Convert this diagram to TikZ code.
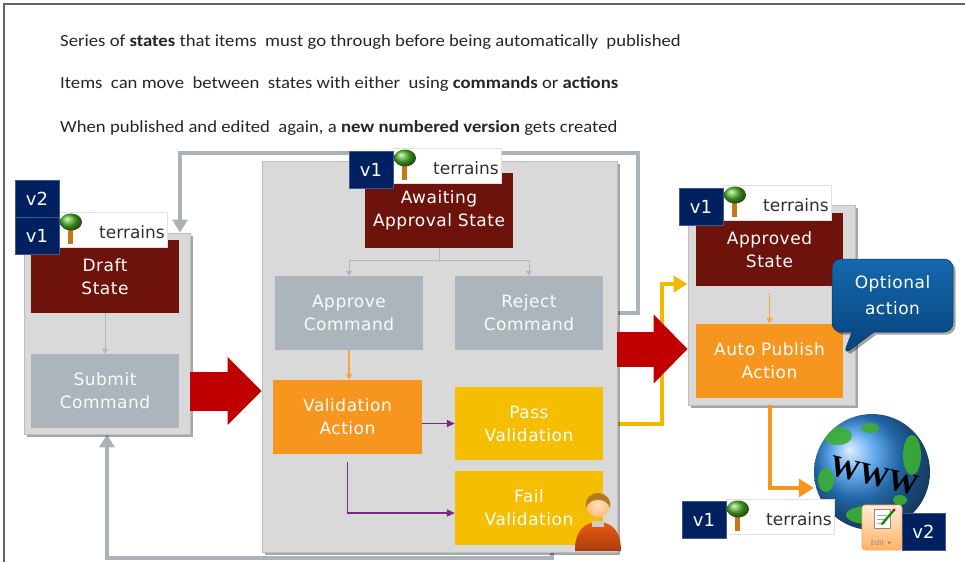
\documentclass[tikz,border=0pt]{standalone}
\usepackage{fontspec}
\setmainfont{DejaVu Sans}
\newfontfamily\hdrfont{Carlito}
\newfontfamily\boxfont[LetterSpace=3]{DejaVu Sans}
\newfontfamily\wwwfont{Liberation Serif}
\usetikzlibrary{arrows.meta,shadows,shapes.callouts,backgrounds}

\definecolor{statered}{RGB}{110,18,12}
\definecolor{cmdgray}{RGB}{173,181,188}
\definecolor{actorange}{RGB}{247,150,30}
\definecolor{valyellow}{RGB}{246,190,0}
\definecolor{panelfill}{RGB}{217,217,217}
\definecolor{paneledge}{RGB}{190,190,190}
\definecolor{navy}{RGB}{0,32,96}
\definecolor{bigred}{RGB}{192,0,0}
\definecolor{flowpurple}{RGB}{118,42,136}
\definecolor{loopgray}{RGB}{170,178,186}
\definecolor{thingray}{RGB}{176,184,190}
\definecolor{flowyellow}{RGB}{245,184,0}
\definecolor{framegray}{RGB}{100,100,100}
\definecolor{leaf}{RGB}{80,180,40}
\definecolor{trunk}{RGB}{196,122,24}
\definecolor{tagtext}{RGB}{48,48,48}
\definecolor{calloutTop}{RGB}{22,104,172}
\definecolor{calloutBot}{RGB}{6,66,124}
\definecolor{globeblue}{RGB}{50,145,235}
\definecolor{landgreen}{RGB}{60,175,50}
\definecolor{skin}{RGB}{255,205,150}
\definecolor{hair}{RGB}{180,120,30}
\definecolor{shirt}{RGB}{225,80,20}

\tikzset{
  panel/.style={draw=paneledge, fill=panelfill, line width=0.8pt, inner sep=0,
    drop shadow={shadow xshift=2.5pt, shadow yshift=-2.5pt, opacity=0.35, fill=black}},
  blk/.style={minimum width=148pt, minimum height=74pt, inner sep=0, align=center,
    font=\boxfont\fontsize{17}{23}\selectfont, text=white},
  statebox/.style={blk, fill=statered},
  cmdbox/.style={blk, fill=cmdgray, text=white!94!cmdgray},
  actbox/.style={blk, fill=actorange},
  valbox/.style={blk, fill=valyellow},
  vtag/.style={fill=navy, draw=navy!75!white, line width=0.4pt, text=white,
    minimum width=44pt, minimum height=37pt, inner sep=0,
    font=\fontsize{18}{18}\selectfont},
  terrbox/.style={fill=white, draw=black!12, line width=0.4pt,
    minimum width=108pt, minimum height=35pt, inner sep=0},
  terrtext/.style={text=tagtext, inner sep=0, font=\fontsize{17}{17}\selectfont},
  terrtag/.pic={
    \node[terrbox, anchor=north west] (-box) at (0,0) {};
    \fill[trunk] (9,15) rectangle (14,32);
    \shade[ball color=leaf] (12,10) ellipse [x radius=11pt, y radius=8.5pt];
    \node[terrtext, anchor=base east] (-txt) at (106,26) {terrains};
  },
  bigarrow/.style={draw=bigred, line width=#1},
  thinlink/.style={draw=thingray, line width=1pt, -{Triangle[length=5pt,width=6pt]}},
  orangelink/.style={draw=actorange!85!white, line width=1.4pt, -{Triangle[length=6pt,width=6pt]}},
  purplelink/.style={draw=flowpurple, line width=1.6pt, -{Triangle[length=8pt,width=7pt]}},
  looplink/.style={draw=loopgray, line width=4pt, line join=miter, -{Triangle[length=13pt,width=15pt]}},
  yellowlink/.style={draw=flowyellow, line width=4pt, line join=miter, -{Triangle[length=14pt,width=16pt]}},
  weblink/.style={draw=actorange, line width=4pt, line join=miter, -{Triangle[length=15pt,width=18pt]}},
  hdr/.style={anchor=base west, inner sep=0, text=black!85, font=\hdrfont\fontsize{17}{17}\selectfont},
}

\begin{document}
\begin{tikzpicture}[x=1pt, y=-1pt]
  \useasboundingbox (0,0) rectangle (965,562);
  \begin{scope}[on background layer]
    \fill[white] (0,0) rectangle (965,562);
  \end{scope}
  \draw[framegray, line width=1.6pt] (4,562) -- (4,4) -- (965,4);

  % header lines
  \node[hdr] (line1) at (60,46) {\scalebox{1.1}[1]{Series of \textbf{states} that items\ \ must go through before being automatically\ \ published}};
  \node[hdr] (line2) at (60,88) {\scalebox{1.1}[1]{Items\ \ can move\ \ between\ \ states with either\ \ using \textbf{commands} or \textbf{actions}}};
  \node[hdr] (line3) at (60,132) {\scalebox{1.1}[1]{When published and edited\ \ again, a \textbf{new numbered version} gets created}};

  % containers
  \node[panel, minimum width=166pt, minimum height=201pt] (draftC) at (107,333.5) {};
  \node[panel, minimum width=355pt, minimum height=391pt] (awaitC) at (439.5,356.5) {};
  \node[panel, minimum width=167pt, minimum height=200pt] (apprC) at (771.5,305) {};

  % draft stage
  \node[statebox, minimum height=73pt] (draft) at (105,276.5) {Draft\\State};
  \node[cmdbox] (submit) at (105,391) {Submit\\Command};

  % awaiting approval stage
  \node[statebox, minimum height=75pt] (await) at (439,210.5) {Awaiting\\Approval State};
  \node[cmdbox] (approve) at (349,313) {Approve\\Command};
  \node[cmdbox] (reject) at (529,313) {Reject\\Command};
  \node[actbox, minimum width=149pt] (valid) at (347.5,417) {Validation\\Action};
  \node[valbox, minimum height=73pt] (pass) at (529,423.5) {Pass\\Validation};
  \node[valbox] (fail) at (529,508) {Fail\\Validation};

  % approved stage
  \node[statebox, minimum width=147pt, minimum height=73pt] (approved) at (769.5,249.5) {Approved\\State};
  \node[actbox, minimum width=147pt] (autopub) at (769.5,361) {Auto Publish\\Action};

  % links inside the stages
  \draw[thinlink] (draft.south) -- (submit.north);
  \draw[thingray, line width=1pt] (await.south) -- ++(0,12) coordinate (split);
  \draw[thinlink] (split) -| (approve.north);
  \draw[thinlink] (split) -| (reject.north);
  \draw[orangelink] (approve.south) -- (approve.south |- valid.north);
  \draw[purplelink] (pass.west -| valid.east) -- (pass.west);
  \draw[purplelink] ([yshift=-8pt]valid.south) |- ([yshift=-5pt]fail.west);
  \draw[orangelink] ([yshift=-7pt]approved.south) -- (autopub.north);

  % block arrows between the stages
  \coordinate (r2) at ([yshift=12pt]autopub.west);
  \draw[bigarrow=39pt, -{Triangle[length=34pt,width=66pt]}] (submit -| draftC.east) -- (submit -| awaitC.west);
  \draw[bigarrow=35pt, -{Triangle[length=34pt,width=67pt]}] (r2 -| awaitC.east) -- (r2 -| apprC.west);

  % return and forward paths behind the stages
  \coordinate (loopR) at (638,153);
  \coordinate (loopL) at (180,153);
  \coordinate (loopB) at (552,558);
  \coordinate (yjog) at (662,284);
  \begin{scope}[on background layer]
    \draw[looplink] (reject.east) -| (loopR) -- (loopL) -- (loopL |- draftC.north);
    \draw[looplink] (loopB |- awaitC.south) -- (loopB) -| (draftC.south);
    \draw[yellowlink] (pass.east) -| (yjog) -- (yjog -| apprC.west);
    \draw[weblink, -] (autopub.south) -- (autopub.south |- apprC.south);
  \end{scope}

  % person marker on the failed validation
  \shade[top color=shirt!75!orange, bottom color=shirt!75!black]
    (575,551) .. controls (575,530) and (585,522) .. (598,522)
    .. controls (611,522) and (621,530) .. (621,551) -- cycle;
  \fill[black!20] (592,521) rectangle (604,527);
  \shade[inner color=skin!60!white, outer color=skin!80!orange] (598,505) circle (12pt);
  \fill[hair] (586,508) .. controls (583,488) and (613,488) .. (610,508)
    .. controls (607,497) and (589,497) .. cycle;

  % web globe
  \node[circle, minimum size=116pt, inner sep=0, ball color=globeblue] (globe) at (872,472) {};
  \begin{scope}
    \clip (globe.center) circle (58pt);
    \fill[landgreen, opacity=0.9] (838,436) ellipse [x radius=14pt, y radius=9pt];
    \fill[landgreen, opacity=0.9] (870,428) ellipse [x radius=9pt, y radius=5pt];
    \fill[landgreen, opacity=0.9] (912,455) ellipse [x radius=9pt, y radius=20pt];
    \fill[landgreen, opacity=0.9] (826,480) ellipse [x radius=8pt, y radius=12pt];
    \fill[landgreen, opacity=0.9] (868,515) ellipse [x radius=22pt, y radius=9pt];
    \fill[landgreen, opacity=0.9] (900,500) ellipse [x radius=7pt, y radius=5pt];
  \end{scope}
  \node[rotate=-14, inner sep=0, font=\wwwfont\bfseries\fontsize{30}{30}\selectfont] (www) at (874,476) {WWW};
  \draw[weblink] (autopub.south |- apprC.south) |- ([yshift=-16pt]globe.west);

  % callout
  \node[rectangle callout, callout absolute pointer={([yshift=6pt]autopub.east)},
    callout pointer width=22pt, rounded corners=9pt,
    top color=calloutTop, bottom color=calloutBot, draw=calloutBot!80!black, line width=0.5pt,
    minimum width=121pt, minimum height=73pt, inner sep=0, align=center, text=white,
    font=\boxfont\fontsize{17}{26}\selectfont,
    drop shadow={shadow xshift=2.5pt, shadow yshift=-2.5pt, opacity=0.35, fill=black}]
    (optional) at (892.5,295.5) {Optional\\action};

  % version tags
  \pic (tagDraft) at (59,212) {terrtag};
  \node[vtag] (v2draft) at (37,198.5) {v2};
  \node[vtag] (v1draft) at (37,235.5) {v1};
  \pic (tagAwait) at (393,148) {terrtag};
  \node[vtag] (v1await) at (371,170) {v1};
  \pic (tagAppr) at (723,185) {terrtag};
  \node[vtag] (v1appr) at (701,207) {v1};
  \pic (tagWeb) at (726,499) {terrtag};
  \node[vtag] (v1web) at (704,519.5) {v1};

  % edit button on the published item
  \node[rounded corners=3pt, minimum width=40pt, minimum height=45pt, inner sep=0,
    top color=orange!15!white, bottom color=orange!60!white, draw=orange!70!white, line width=0.6pt]
    (edit) at (882,527.5) {};
  \fill[white] (874,509) rectangle (890,528);
  \draw[black!45, line width=0.7pt] (874,509) rectangle (890,528);
  \draw[black!35, line width=0.5pt] (877,515) -- (887,515) (877,519) -- (887,519) (877,523) -- (885,523);
  \draw[green!55!black, line width=2.2pt, line cap=round] (882,524) -- (894,510);
  \fill[red!80!black] (894,510) circle (1.6pt);
  \node[inner sep=0, text=black!45, font=\fontsize{7}{7}\selectfont] (editlbl) at (881,543) {Edit \,▾};
  \node[vtag, minimum width=43pt] (v2web) at (923.5,531.5) {v2};
\end{tikzpicture}
\end{document}
